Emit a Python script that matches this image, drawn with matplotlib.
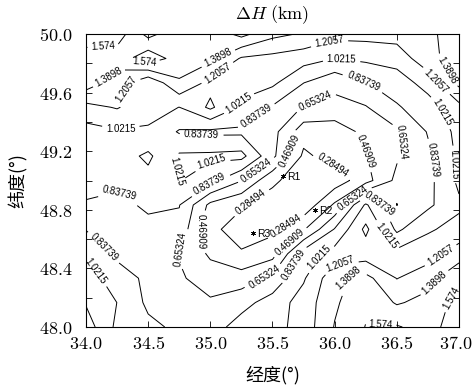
import numpy as np
import matplotlib
matplotlib.use("Agg")
import matplotlib.pyplot as plt
import matplotlib.transforms as mtransforms
from matplotlib.ticker import FixedLocator, FuncFormatter

plt.rcParams['mathtext.fontset'] = 'cm'

# grid coordinates
lon = [34.0, 34.25, 34.5, 34.75, 35.0, 35.25, 35.5, 35.75, 36.0, 36.25, 36.5, 36.75, 37.0]
lat = [48.0, 48.167, 48.333, 48.5, 48.667, 48.833, 49.0, 49.167, 49.333, 49.5, 49.667, 49.833, 50.0]

# Delta H (km), rows listed from lat 50.0 (top) down to lat 48.0 (bottom)
dh_50_000 = [1.70, 1.67, 1.33, 1.52, 1.45, 1.63, 1.44, 1.37, 1.27, 1.27, 1.28, 1.35, 1.48]
dh_49_833 = [1.47, 1.47, 1.70, 1.48, 1.44, 1.185, 1.15, 1.10, 1.02, 1.058, 1.10, 1.32, 1.50]
dh_49_667 = [1.49, 1.30, 1.05, 1.37, 1.15, 1.08, 1.06, 0.84, 0.70, 0.83, 0.92, 1.10, 1.44]
dh_49_500 = [1.148, 1.22, 1.08, 1.02, 1.24, 0.99, 0.82, 0.64, 0.60, 0.64, 0.82, 0.93, 1.15]
dh_49_333 = [0.95, 1.00, 1.00, 0.82, 0.80, 0.80, 0.72, 0.36, 0.36, 0.52, 0.62, 0.85, 1.08]
dh_49_167 = [0.92, 0.93, 0.80, 1.05, 1.06, 1.08, 0.70, 0.25, 0.36, 0.46, 0.63, 0.80, 1.06]
dh_49_000 = [0.90, 0.87, 0.90, 1.03, 0.90, 0.66, 0.32, 0.18, 0.18, 0.40, 0.70, 0.78, 1.06]
dh_48_833 = [0.82, 0.80, 0.86, 0.845, 0.42, 0.30, 0.20, 0.15, 0.50, 1.05, 0.65, 0.80, 0.99]
dh_48_667 = [0.83, 0.76, 0.80, 0.78, 0.32, 0.22, 0.24, 0.45, 0.85, 1.25, 0.80, 1.00, 1.08]
dh_48_500 = [1.00, 0.80, 0.78, 0.64, 0.44, 0.30, 0.40, 0.92, 1.10, 1.10, 1.08, 1.12, 1.30]
dh_48_333 = [1.12, 0.92, 0.80, 0.68, 0.56, 0.56, 0.70, 1.00, 1.34, 1.45, 1.20, 1.32, 1.54]
dh_48_167 = [1.19, 1.02, 0.80, 0.72, 0.68, 0.77, 0.92, 1.10, 1.36, 1.54, 1.37, 1.45, 1.64]
dh_48_000 = [1.30, 0.98, 0.88, 0.80, 0.75, 0.92, 0.95, 1.10, 1.40, 1.58, 1.59, 1.50, 1.68]

rows_top_down = [dh_50_000, dh_49_833, dh_49_667, dh_49_500, dh_49_333, dh_49_167,
                 dh_49_000, dh_48_833, dh_48_667, dh_48_500, dh_48_333, dh_48_167, dh_48_000]

levels = [0.28494, 0.46909, 0.65324, 0.83739, 1.0215, 1.2057, 1.3898, 1.574]

# approximate label positions (lon, lat) per level
label_pos = {
    0.28494: [(36.00, 49.13), (35.33, 48.85), (35.62, 48.67)],
    0.46909: [(35.60, 49.21), (36.27, 49.21), (34.97, 48.66), (35.63, 48.59)],
    0.65324: [(35.84, 49.55), (36.57, 49.26), (35.37, 49.07), (34.84, 48.50),
              (36.15, 48.87), (35.42, 48.37)],
    0.83739: [(36.23, 49.67), (34.93, 49.31), (35.37, 49.44), (36.81, 49.14),
              (34.28, 48.93), (35.01, 48.96), (34.14, 48.54), (36.34, 48.81),
              (35.64, 48.44)],
    1.0215: [(36.06, 49.86), (36.87, 49.47), (34.28, 49.35), (35.22, 49.53),
             (36.98, 49.11), (34.64, 49.06), (35.01, 49.13), (34.06, 48.37),
             (36.40, 48.61), (35.85, 48.49)],
    1.2057: [(34.27, 49.64), (35.06, 49.73), (35.95, 49.97), (36.79, 49.66),
             (36.03, 48.52), (36.86, 48.48)],
    1.3898: [(34.19, 49.70), (35.06, 49.84), (36.90, 49.75), (36.03, 48.46),
             (36.79, 48.31)],
    1.574: [(34.14, 49.91), (34.48, 49.84), (36.92, 48.21), (36.37, 48.03)],
}

station_names = ['R1', 'R2', 'R3']
station_lon = [35.584, 35.842, 35.343]
station_lat = [49.031, 48.799, 48.642]

Z = np.array(rows_top_down)[::-1]
X, Y = np.meshgrid(lon, lat)

fig = plt.figure(figsize=(4.73, 3.92), dpi=100)
ax = fig.add_axes([0.1818, 0.1658, 0.7886, 0.7474])

for lev in levels:
    cs = ax.contour(X, Y, Z, levels=[lev], colors='k', linewidths=0.7)
    ax.clabel(cs, manual=label_pos[lev], inline=True, inline_spacing=2,
              fmt='%.5g', fontsize=7)
for t in ax.texts:
    t.set_family('Liberation Sans')

for name, x, y in zip(station_names, station_lon, station_lat):
    ax.plot([x], [y], marker=(6, 2, 0), ms=3.5, color='k', mew=0.5, ls='none')
    ax.text(x + 0.03, y - 0.005, name, fontsize=7.5, family='Liberation Sans',
            va='center', ha='left')

ax.set_xlim(34.0, 37.0)
ax.set_ylim(48.0, 50.0)
xt = [34.0, 34.5, 35.0, 35.5, 36.0, 36.5, 37.0]
yt = [48.0, 48.4, 48.8, 49.2, 49.6, 50.0]
ax.xaxis.set_major_locator(FixedLocator(xt))
ax.yaxis.set_major_locator(FixedLocator(yt))
ax.yaxis.set_minor_locator(FixedLocator([48.2, 48.6, 49.0, 49.4, 49.8]))
fmt = FuncFormatter(lambda v, p: r'$%.1f$' % v)
ax.xaxis.set_major_formatter(fmt)
ax.yaxis.set_major_formatter(fmt)
ax.tick_params(which='both', direction='in', top=True, right=True, length=4, width=0.6)
ax.tick_params(axis='x', which='major', labelsize=13, pad=6)
ax.tick_params(axis='y', which='major', labelsize=13, pad=10)
for s in ax.spines.values():
    s.set_linewidth(0.8)

ax.set_title(r'$\Delta H\ \mathrm{(km)}$', fontsize=13, pad=11)
ax.set_xlabel('经度(°)', family=['Noto Sans CJK SC', 'DejaVu Sans'], fontsize=13, labelpad=9)
ax.set_ylabel('纬度(°)', family=['Noto Sans CJK SC', 'DejaVu Sans'], fontsize=13, labelpad=8)

fig.canvas.draw()
last = ax.get_xticklabels()[-1]
last.set_transform(last.get_transform() +
                   mtransforms.ScaledTranslation(-3 / 100, 0, fig.dpi_scale_trans))

fig.savefig('out.png', dpi=100)
